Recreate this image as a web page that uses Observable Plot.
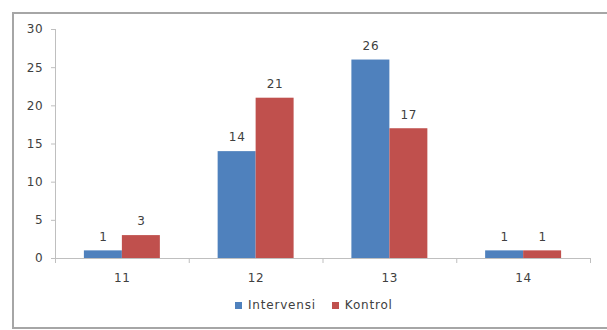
<!DOCTYPE html>
<html>
<head>
<meta charset="utf-8">
<script src="https://cdn.jsdelivr.net/npm/d3@7"></script>
<script src="https://cdn.jsdelivr.net/npm/@observablehq/plot@0.6"></script>
<style>
  body { margin: 0; background: #fff; width: 607px; height: 330px; overflow: hidden; position: relative; }
  #frame { position: absolute; left: 12px; top: 12px; width: 640px; height: 317px; box-sizing: border-box;
           border: 2px solid #a6a6a6; border-right: none; }
  #chart { position: absolute; left: 0; top: 0; }
  #legend { position: absolute; left: 235px; top: 298px; display: flex; align-items: center;
            font-family: "DejaVu Sans", sans-serif; font-size: 12px; letter-spacing: 0.8px; color: #404040; }
  #legend .item { display: flex; align-items: center; margin-right: 16px; }
  #legend .sw { width: 7px; height: 7px; margin-right: 6px; }
</style>
</head>
<body>
<div id="frame"></div>
<div id="chart"></div>
<div id="legend"></div>
<script>
const categories = ["11", "12", "13", "14"];
const seriesNames = ["Intervensi", "Kontrol"];
const intervensi = [1, 14, 26, 1];
const kontrol = [3, 21, 17, 1];
const colors = ["#4F81BD", "#C0504D"];
const yTicks = [0, 5, 10, 15, 20, 25, 30];

const BAR = 0.284; // bar width as fraction of category step
const rows = [];
categories.forEach((c, k) => {
  rows.push({i: k + 1, cat: c, series: seriesNames[0], value: intervensi[k], side: -1});
  rows.push({i: k + 1, cat: c, series: seriesNames[1], value: kontrol[k], side: 1});
});

const axisColor = "#bfbfbf";
const plot = Plot.plot({
  width: 607,
  height: 290,
  marginLeft: 55,
  marginRight: 17,
  marginTop: 29,
  marginBottom: 32,
  style: {fontFamily: "DejaVu Sans, sans-serif", fontSize: "12px", letterSpacing: "0.8px", color: "#404040", background: "transparent"},
  x: {domain: [0.5, categories.length + 0.5]},
  y: {domain: [0, 30]},
  color: {domain: seriesNames, range: colors},
  marks: [
    Plot.rectY(rows, {
      x1: d => d.side < 0 ? d.i - BAR : d.i,
      x2: d => d.side < 0 ? d.i : d.i + BAR,
      y1: 0, y2: "value", fill: "series"
    }),
    Plot.ruleY([0], {stroke: axisColor}),
    Plot.ruleX([0.5], {stroke: axisColor}),
    Plot.axisY(yTicks, {tickSize: 4, tickPadding: 8, stroke: axisColor, label: null}),
    Plot.axisX(d3.range(0.5, categories.length + 1, 1), {tickSize: 5, tickFormat: () => "", stroke: axisColor, label: null}),
    Plot.axisX(categories.map((c, k) => k + 1), {tickSize: 0, tickPadding: 15, tickFormat: v => categories[v - 1], label: null}),
    Plot.text(rows, {
      x: d => d.i + d.side * BAR / 2,
      y: "value", text: d => String(d.value), dy: -14, fill: "#404040"
    })
  ]
});
document.getElementById("chart").appendChild(plot);

const legend = document.getElementById("legend");
seriesNames.forEach((s, k) => {
  const item = document.createElement("div");
  item.className = "item";
  const sw = document.createElement("span");
  sw.className = "sw";
  sw.style.background = colors[k];
  const t = document.createElement("span");
  t.textContent = s;
  item.appendChild(sw);
  item.appendChild(t);
  legend.appendChild(item);
});
</script>
</body>
</html>
